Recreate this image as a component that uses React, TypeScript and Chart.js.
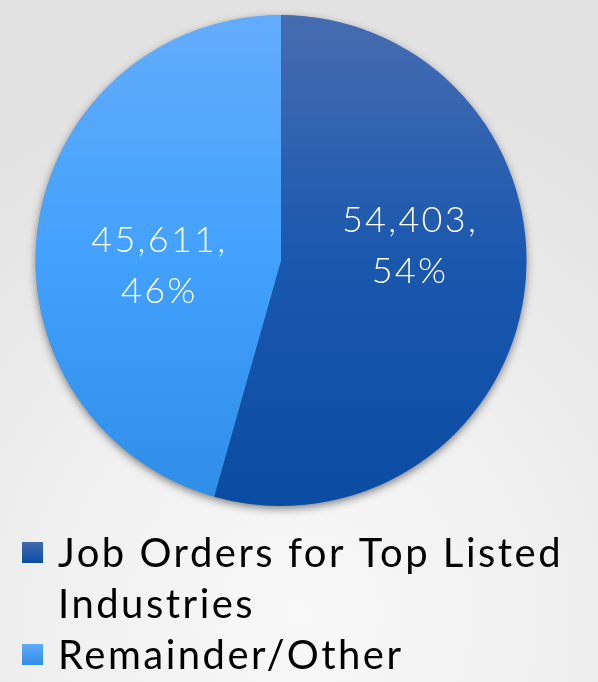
import React, { useEffect, useRef } from "react";
import { Chart, registerables } from "chart.js";

Chart.register(...registerables);

const categories = ["Job Orders for Top Listed Industries", "Remainder/Other"];
const values = [54403, 45611];
const percentLabels = ["54%", "46%"];
const sliceTopColors = ["#466cb1", "#63acfc"];
const sliceMidColors = ["#1a58ae", "#42a1fd"];
const sliceBottomColors = ["#0a4ca2", "#2e8de6"];
const labelAngleOffsetDeg = [-14.6, -10];
const labelRadiusFrac = [0.525, 0.5];

const W = 598;
const H = 682;
const FONT = "Lato, 'Open Sans', 'DejaVu Sans', sans-serif";

function gradientFor(chart: any, i: number) {
  const area = chart.chartArea;
  if (!area) return sliceMidColors[i];
  const g = chart.ctx.createLinearGradient(0, area.top, 0, area.bottom);
  g.addColorStop(0, sliceTopColors[i]);
  g.addColorStop(0.5, sliceMidColors[i]);
  g.addColorStop(1, sliceBottomColors[i]);
  return g;
}

const shadowPlugin = {
  id: "pieShadow",
  beforeDatasetsDraw(chart: any) {
    const meta = chart.getDatasetMeta(0);
    const arc = meta.data[0];
    if (!arc) return;
    const { x, y, outerRadius } = arc.getProps(["x", "y", "outerRadius"], true);
    const ctx = chart.ctx;
    ctx.save();
    ctx.shadowColor = "rgba(0,0,0,0.5)";
    ctx.shadowBlur = 9;
    ctx.shadowOffsetY = 3;
    ctx.beginPath();
    ctx.arc(x, y, outerRadius - 0.5, 0, Math.PI * 2);
    ctx.fillStyle = "#2a6cc0";
    ctx.fill();
    ctx.restore();
  },
};

const labelPlugin = {
  id: "sliceLabels",
  afterDatasetsDraw(chart: any) {
    const meta = chart.getDatasetMeta(0);
    const ctx = chart.ctx;
    ctx.save();
    ctx.fillStyle = "#ffffff";
    ctx.textAlign = "center";
    ctx.textBaseline = "middle";
    ctx.font = `300 36px ${FONT}`;
    (ctx as any).letterSpacing = "2.3px";
    meta.data.forEach((arc: any, i: number) => {
      const { x, y, startAngle, endAngle, outerRadius } = arc.getProps(
        ["x", "y", "startAngle", "endAngle", "outerRadius"],
        true
      );
      const mid = (startAngle + endAngle) / 2 + (labelAngleOffsetDeg[i] * Math.PI) / 180;
      const r = outerRadius * labelRadiusFrac[i];
      const cx = x + Math.cos(mid) * r + 1;
      const cy = y + Math.sin(mid) * r;
      const lines = [values[i].toLocaleString("en-US") + ",", percentLabels[i]];
      ctx.fillText(lines[0], cx, cy - 25);
      ctx.fillText(lines[1], cx, cy + 26);
    });
    ctx.restore();
  },
};

const legendPlugin = {
  id: "wrapLegend",
  afterDraw(chart: any) {
    const ctx = chart.ctx;
    ctx.save();
    ctx.font = `400 40px ${FONT}`;
    (ctx as any).letterSpacing = "2.5px";
    ctx.fillStyle = "#000000";
    ctx.textAlign = "left";
    ctx.textBaseline = "alphabetic";
    const textX = 58;
    const maxW = W - textX - 20;
    const lineH = 51;
    let baseline = 567;
    chart.data.labels.forEach((label: string, i: number) => {
      const words = label.split(" ");
      const lines: string[] = [];
      let cur = "";
      words.forEach((w) => {
        const t = cur ? cur + " " + w : w;
        if (ctx.measureText(t).width > maxW && cur) {
          lines.push(cur);
          cur = w;
        } else cur = t;
      });
      if (cur) lines.push(cur);
      const g = ctx.createLinearGradient(0, baseline - 26, 0, baseline - 4);
      g.addColorStop(0, sliceTopColors[i]);
      g.addColorStop(1, sliceBottomColors[i]);
      ctx.fillStyle = g;
      ctx.fillRect(22, baseline - 25, 21, 21);
      ctx.fillStyle = "#000000";
      lines.forEach((ln, j) => {
        ctx.fillText(ln, textX, baseline + j * lineH);
      });
      baseline += lines.length * lineH;
    });
    ctx.restore();
  },
};

export default function App() {
  const ref = useRef<HTMLCanvasElement | null>(null);
  useEffect(() => {
    document.body.style.margin = "0";
    const canvas = ref.current;
    if (!canvas) return;
    const chart = new Chart(canvas, {
      type: "pie",
      data: {
        labels: categories,
        datasets: [
          {
            data: values,
            backgroundColor: (c: any) => gradientFor(c.chart, c.dataIndex),
            borderWidth: 0,
          },
        ],
      },
      options: {
        animation: false,
        responsive: false,
        maintainAspectRatio: false,
        layout: { padding: { left: 34, right: 70, top: 15, bottom: 176 } },
        plugins: {
          legend: { display: false },
          tooltip: { enabled: false },
        },
      },
      plugins: [shadowPlugin, labelPlugin, legendPlugin],
    });
    return () => chart.destroy();
  }, []);
  return (
    <div
      style={{
        position: "fixed",
        left: 0,
        top: 0,
        width: W,
        height: H,
        background:
          "radial-gradient(ellipse 90% 80% at 50% 90%, #f8f8f8 0%, #f0f0f0 45%, #e2e2e2 100%)",
      }}
    >
      <canvas ref={ref} width={W} height={H} style={{ display: "block" }} />
    </div>
  );
}
